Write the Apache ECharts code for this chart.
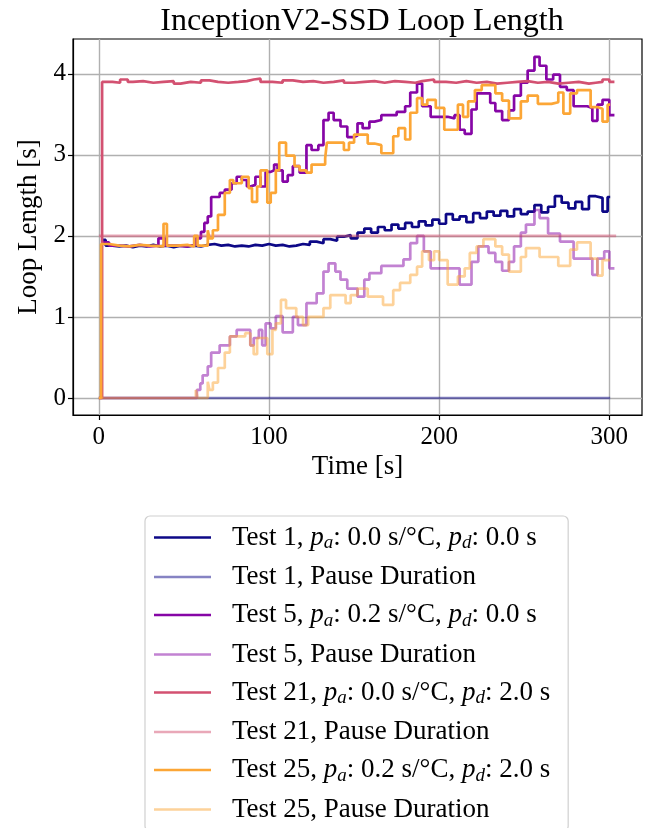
<!DOCTYPE html>
<html>
<head>
<meta charset="utf-8">
<script src="https://cdn.jsdelivr.net/npm/echarts@6/dist/echarts.min.js"></script>
<style>
  html, body { margin:0; padding:0; background:#fff; }
  #chart { width:650px; height:828px; }
</style>
</head>
<body>
<div id="chart"></div>
<script>
// [time s, value s] — each value holds until the next time (steps-post)
var test1Loop = [[2,1.95],[4,1.88],[8,1.87],[12,1.88],[16,1.86],[20,1.88],[24,1.87],[28,1.89],[32,1.87],[36,1.88],[40,1.86],[44,1.88],[48,1.87],[52,1.88],[56,1.87],[60,1.89],[64,1.90],[68,1.88],[72,1.89],[76,1.87],[80,1.88],[84,1.87],[88,1.89],[92,1.88],[96,1.90],[100,1.88],[104,1.89],[108,1.87],[112,1.88],[116,1.90],[120,1.89],[124,1.93],[128,1.91],[132,1.96],[136,1.94],[140,1.99],[144,2.01],[148,1.97],[152,2.04],[156,2.09],[160,2.04],[164,2.11],[168,2.07],[172,2.14],[176,2.09],[180,2.16],[184,2.11],[188,2.18],[192,2.13],[196,2.20],[200,2.15],[204,2.27],[208,2.20],[212,2.24],[216,2.17],[220,2.28],[224,2.22],[228,2.30],[232,2.25],[236,2.31],[240,2.24],[244,2.33],[248,2.27],[252,2.30],[256,2.38],[260,2.29],[264,2.36],[268,2.49],[272,2.41],[276,2.34],[280,2.42],[284,2.33],[288,2.49],[292,2.47],[296,2.30],[299,2.48],[300.5,2.48]];
var test1Pause = [[0,0],[300.5,0]];

var test5Loop = [[2,1.92],[6,1.88],[12,1.87],[18,1.89],[24,1.87],[30,1.88],[35,1.97],[39,1.88],[46,1.87],[52,1.89],[57,1.97],[60,2.05],[62,2.16],[64,2.24],[66,2.48],[71,2.53],[74,2.57],[78,2.65],[81,2.73],[84,2.69],[87,2.61],[89,2.63],[92,2.73],[95,2.61],[98,2.79],[101,2.81],[103,2.88],[105,2.81],[108,2.67],[111,2.75],[114,2.86],[118,2.78],[122,3.12],[125,3.06],[129,3.12],[132,3.43],[135,3.52],[138,3.43],[142,3.35],[146,3.22],[150,3.24],[152,3.39],[155,3.33],[159,3.41],[162,3.43],[166,3.49],[175,3.53],[180,3.60],[183,3.77],[187,3.88],[190,3.60],[195,3.47],[205,3.45],[209,3.49],[212,3.31],[215,3.26],[219,3.56],[222,3.76],[230,3.64],[233,3.54],[237,3.43],[241,3.55],[244,3.73],[248,3.89],[252,4.04],[256,4.21],[259,4.10],[263,3.93],[267,3.99],[271,3.84],[275,3.80],[279,3.60],[287,3.58],[290,3.42],[293,3.62],[296,3.68],[300,3.49],[303,3.49]];
var test5Pause = [[0,0],[57.6,0.10],[59.6,0.18],[61,0.28],[64,0.39],[66,0.56],[71,0.65],[77,0.76],[81,0.84],[89,0.65],[91,0.74],[94,0.84],[96,0.65],[98,0.92],[101,0.86],[104,1.01],[108,0.81],[114,1.00],[117,0.90],[122,1.17],[128,1.29],[132,1.56],[135,1.66],[139,1.56],[142,1.46],[146,1.35],[152,1.25],[156,1.46],[159,1.54],[166,1.63],[179,1.71],[183,1.91],[187,2.00],[191,1.81],[195,1.60],[212,1.40],[219,1.68],[223,1.87],[229,1.79],[233,1.68],[237,1.57],[241,1.68],[244,1.87],[248,2.04],[251,2.14],[256,2.32],[259,2.22],[264,2.03],[271,1.93],[279,1.72],[290,1.52],[293,1.72],[297,1.81],[300,1.60],[303,1.60]];

var test21Loop = [[0,0],[1.9,3.90],[8,3.89],[12.5,3.93],[17,3.90],[20,3.91],[26,3.89],[32,3.90],[38,3.91],[44,3.88],[48,3.90],[54,3.89],[60,3.92],[65,3.90],[70,3.89],[76,3.90],[82,3.91],[87,3.93],[91,3.94],[95,3.90],[102,3.89],[108,3.92],[114,3.90],[120,3.91],[126,3.89],[132,3.90],[138,3.92],[144,3.89],[150,3.90],[156,3.91],[162,3.89],[168,3.91],[174,3.90],[180,3.89],[186,3.91],[190,3.93],[197,3.90],[204,3.89],[210,3.91],[216,3.89],[222,3.90],[228,3.88],[234,3.89],[240,3.90],[246,3.91],[252,3.89],[258,3.90],[264,3.88],[270,3.89],[276,3.90],[282,3.88],[288,3.89],[292,3.90],[296,3.93],[300,3.90],[303,3.90]];
var test21Pause = [[0,2.0],[304,2.0]];

var test25Loop = [[0,0],[1.3,1.90],[6,1.88],[12,1.87],[18,1.89],[24,1.88],[30,1.87],[38,2.15],[40,1.88],[46,1.89],[52,1.87],[56,2.0],[58,1.88],[64,2.07],[65,1.97],[67,2.07],[70,2.26],[74,2.53],[77,2.69],[79,2.65],[84,2.73],[88,2.59],[90,2.42],[93,2.61],[95,2.81],[99,2.41],[101,2.53],[104,2.81],[106,3.15],[110,2.99],[115,2.86],[118,2.81],[122,2.78],[125,2.88],[133,2.96],[134,3.15],[144,3.06],[147,3.15],[150,3.25],[158,3.14],[162,3.12],[166,3.02],[173,3.23],[176,3.33],[180,3.19],[183,3.52],[187,3.70],[190,3.62],[193,3.68],[198,3.58],[203,3.31],[211,3.62],[214,3.47],[217,3.66],[221,3.80],[225,3.86],[233,3.76],[237,3.67],[241,3.45],[248,3.66],[252,3.73],[258,3.63],[266,3.65],[270,3.77],[273,3.51],[277,3.76],[281,3.80],[289,3.59],[293,3.57],[296,3.41],[299,3.62],[300.5,3.62]];
var test25Pause = [[0,0],[57,0.10],[58,0],[64,0.20],[65,0.10],[67,0.19],[70,0.37],[74,0.56],[77,0.76],[86,0.80],[89,0.65],[91,0.54],[93,0.74],[99,0.54],[102,0.84],[104,0.92],[107,1.21],[110,1.11],[116,1.00],[120,0.90],[123,1.00],[132,1.11],[136,1.27],[145,1.17],[148,1.27],[152,1.35],[158,1.25],[167,1.15],[173,1.33],[177,1.42],[183,1.52],[187,1.62],[190,1.81],[194,1.70],[197,1.81],[200,1.70],[205,1.40],[211,1.50],[215,1.60],[218,1.79],[222,1.87],[226,1.96],[233,1.87],[237,1.77],[241,1.56],[248,1.74],[251,1.85],[259,1.74],[270,1.63],[277,1.83],[281,1.92],[289,1.72],[293,1.51],[296,1.70],[300.5,1.70]];

var xTicks = [0, 100, 200, 300];
var yTicks = [0, 1, 2, 3, 4];

var seriesNames = [
  'Test 1, p_a: 0.0 s/°C, p_d: 0.0 s',
  'Test 1, Pause Duration',
  'Test 5, p_a: 0.2 s/°C, p_d: 0.0 s',
  'Test 5, Pause Duration',
  'Test 21, p_a: 0.0 s/°C, p_d: 2.0 s',
  'Test 21, Pause Duration',
  'Test 25, p_a: 0.2 s/°C, p_d: 2.0 s',
  'Test 25, Pause Duration'
];
var seriesData = [test1Loop, test1Pause, test5Loop, test5Pause, test21Loop, test21Pause, test25Loop, test25Pause];
var seriesColors = [
  '#0d0887', 'rgba(13,8,135,0.5)',
  '#8606a6', 'rgba(134,6,166,0.5)',
  '#d35171', 'rgba(211,81,113,0.5)',
  '#fca636', 'rgba(252,166,54,0.5)'
];

var serif = '"Liberation Serif", "DejaVu Serif", serif';

// legend label: p_a / p_d -> italic p with subscript
function legendText(name) {
  var parts = name.split(/(p_a|p_d)/);
  return parts.map(function (s) {
    if (s === 'p_a') return '{it|p}{sub|a}';
    if (s === 'p_d') return '{it|p}{sub|d}';
    return s ? '{n|' + s + '}' : '';
  }).join('');
}

var myChart = echarts.init(document.getElementById('chart'));

var option = {
  backgroundColor: '#fff',
  animation: false,
  title: {
    text: 'InceptionV2-SSD Loop Length',
    left: 357, top: 1, textAlign: 'center',
    textStyle: { fontFamily: serif, fontWeight: 'normal', fontSize: 32, color: '#000' }
  },
  grid: {
    left: 73, top: 39, width: 569, height: 376,
    show: true, borderColor: '#000', borderWidth: 1.2, backgroundColor: 'transparent'
  },
  legend: {
    orient: 'vertical',
    left: 145, top: 516,
    width: 440, height: 360,
    padding: [8, 18, 8, 9],
    itemGap: 11,
    itemWidth: 57, itemHeight: 2.6,
    icon: 'rect',
    backgroundColor: 'rgba(255,255,255,0.8)',
    borderColor: '#d0d0d0', borderWidth: 1.2, borderRadius: 5,
    data: seriesNames,
    formatter: legendText,
    textStyle: {
      fontFamily: serif, fontSize: 27, color: '#000',
      padding: [0, 0, 0, 16],
      rich: {
        n: { fontFamily: serif, fontSize: 27, lineHeight: 30, color: '#000' },
        it: { fontFamily: serif, fontSize: 27, lineHeight: 30, fontStyle: 'italic', color: '#000' },
        sub: { fontFamily: serif, fontSize: 19, lineHeight: 30, fontStyle: 'italic', color: '#000', verticalAlign: 'bottom', padding: [9, 0, 0, 0] }
      }
    }
  },
  xAxis: {
    type: 'value', min: -15.2, max: 319.2, interval: 100,
    name: 'Time [s]', nameLocation: 'middle', nameGap: 38,
    nameTextStyle: { fontFamily: serif, fontSize: 27, color: '#000' },
    axisLine: { show: true, onZero: false, lineStyle: { color: '#000', width: 1.2 } },
    axisTick: { show: true, inside: false, length: 5, lineStyle: { color: '#000', width: 1.2 }, customValues: xTicks },
    axisLabel: { fontFamily: serif, fontSize: 25, color: '#000', margin: 10, customValues: xTicks },
    splitLine: { show: true, lineStyle: { color: '#b0b0b0', width: 1.4 } }
  },
  yAxis: {
    type: 'value', min: -0.21, max: 4.43, interval: 1,
    name: 'Loop Length [s]', nameLocation: 'middle', nameGap: 31,
    nameTextStyle: { fontFamily: serif, fontSize: 27, color: '#000' },
    axisLine: { show: true, onZero: false, lineStyle: { color: '#000', width: 1.2 } },
    axisTick: { show: true, inside: false, length: 5, lineStyle: { color: '#000', width: 1.2 }, customValues: yTicks },
    axisLabel: { fontFamily: serif, fontSize: 25, color: '#000', margin: 7, customValues: yTicks },
    splitLine: { show: true, lineStyle: { color: '#b0b0b0', width: 1.4 } }
  },
  series: seriesData.map(function (d, i) {
    return {
      name: seriesNames[i],
      type: 'line',
      step: 'end',
      data: d,
      showSymbol: false,
      symbol: 'none',
      color: seriesColors[i],
      lineStyle: { color: seriesColors[i], width: 2.7 },
      z: 2 + i
    };
  })
};

myChart.setOption(option);
</script>
</body>
</html>
